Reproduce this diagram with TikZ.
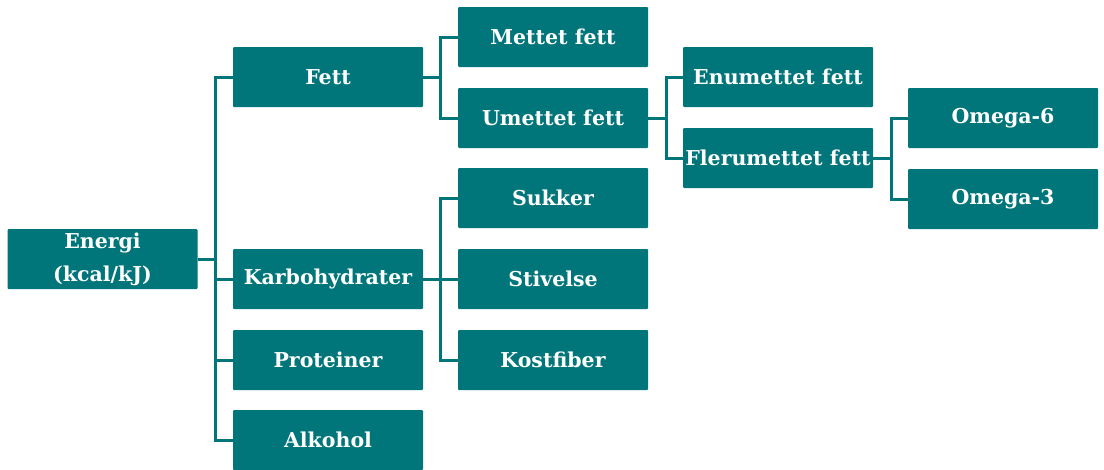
\documentclass[tikz,border=0pt]{standalone}
\usepackage{fontspec}
\setmainfont{DejaVu Serif}
\definecolor{teal1}{HTML}{00767A}
\begin{document}
\begin{tikzpicture}[x=1pt,y=-1pt,
  box/.style={fill=teal1,text=white,minimum width=190pt,minimum height=60pt,inner sep=0pt,
    rounded corners=1pt,font=\fontsize{20.5}{33}\selectfont\bfseries,align=center},
  link/.style={draw=teal1,line width=3pt}]
\useasboundingbox (0,0) rectangle (1104,469);
\node[box] (energi) at (102.5,259) {Energi\\(kcal/kJ)};
\node[box] (fett) at (328,77) {Fett};
\node[box] (karbo) at (328,279) {Karbohydrater};
\node[box] (prot) at (328,360) {Proteiner};
\node[box] (alko) at (328,440) {Alkohol};
\node[box] (mettet) at (553,37) {Mettet fett};
\node[box] (umettet) at (553,118) {Umettet fett};
\node[box] (sukker) at (553,198) {Sukker};
\node[box] (stiv) at (553,279) {Stivelse};
\node[box] (kost) at (553,360) {Kostfiber};
\node[box] (enu) at (778,77) {Enumettet fett};
\node[box] (fler) at (778,158) {Flerumettet fett};
\node[box] (o6) at (1003,118) {Omega-6};
\node[box] (o3) at (1003,199) {Omega-3};
\coordinate (s1) at (215,0);
\coordinate (s2) at (440,0);
\coordinate (s3) at (666,0);
\coordinate (s4) at (891,0);
\foreach \c in {fett,karbo,prot,alko}
  \draw[link] (energi.east) -- (s1 |- energi.east) |- (\c.west);
\foreach \c in {mettet,umettet}
  \draw[link] (fett.east) -- (s2 |- fett.east) |- (\c.west);
\foreach \c in {sukker,stiv,kost}
  \draw[link] (karbo.east) -- (s2 |- karbo.east) |- (\c.west);
\foreach \c in {enu,fler}
  \draw[link] (umettet.east) -- (s3 |- umettet.east) |- (\c.west);
\foreach \c in {o6,o3}
  \draw[link] (fler.east) -- (s4 |- fler.east) |- (\c.west);
\end{tikzpicture}
\end{document}
